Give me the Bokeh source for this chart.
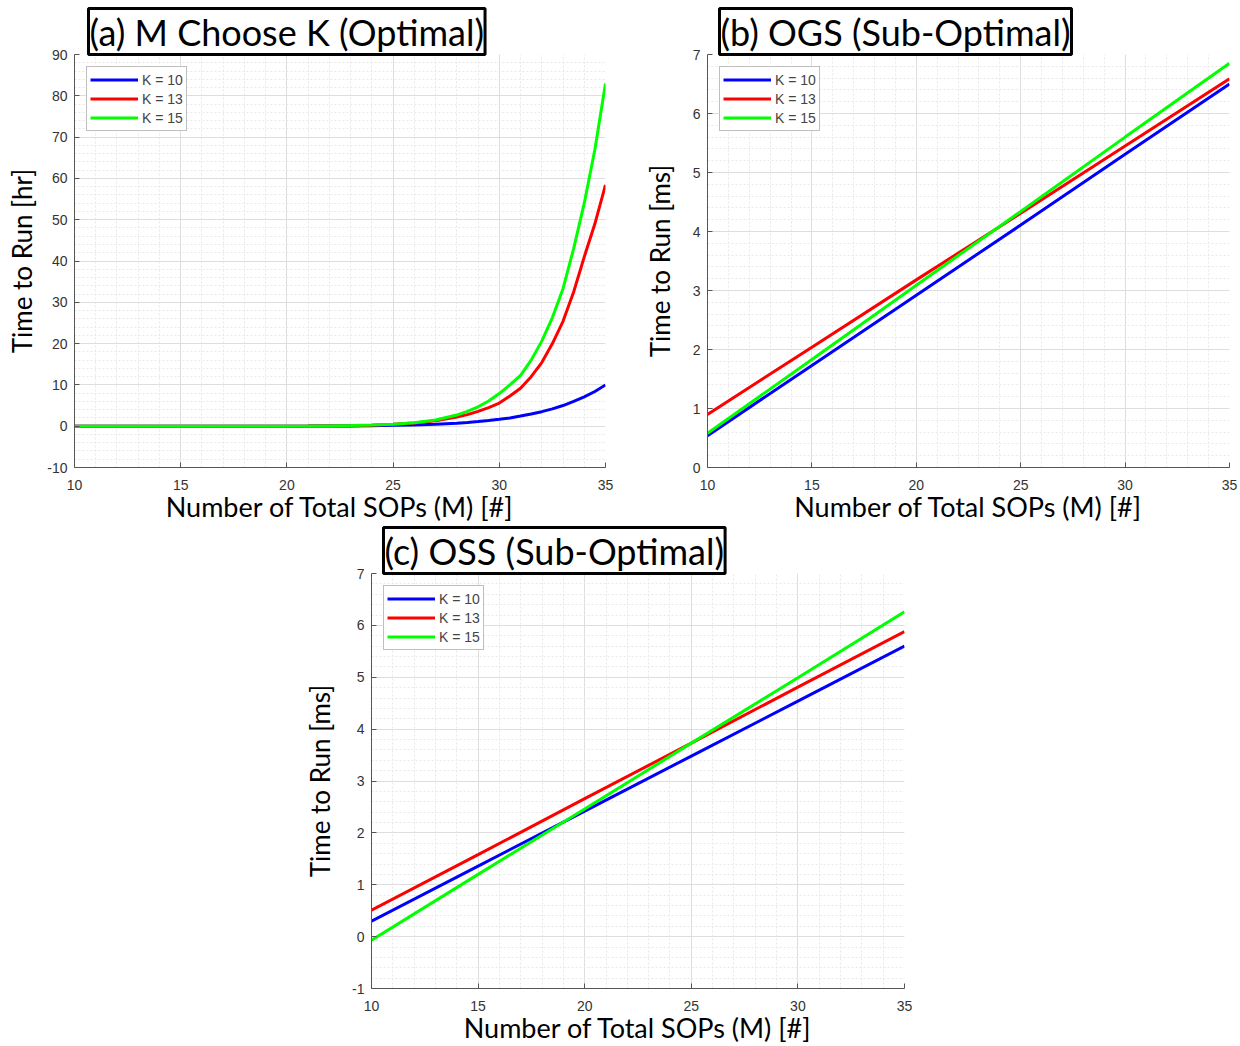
from bokeh.plotting import figure
from bokeh.models import Legend, LegendItem, Spacer, FixedTicker, Range1d
from bokeh.layouts import row, column
from bokeh.embed import file_html
from bokeh.resources import INLINE

# ---------------- data ----------------
m_a = [10, 11, 12, 13, 14, 15, 16, 17, 18, 19, 20, 21, 22, 23, 24, 25, 26, 27, 28,
       28.5, 29, 29.5, 30, 30.5, 31, 31.5, 32, 32.5, 33, 33.5, 34, 34.5, 35]
a_k10 = [0, 0, 0, 0, 0, 0, 0, 0, 0, 0.01, 0.01, 0.02, 0.04, 0.06, 0.11, 0.2,
         0.31, 0.48, 0.74, 0.92, 1.12, 1.38, 1.68, 2.0, 2.45, 2.95, 3.52, 4.2,
         5.0, 6.0, 7.1, 8.4, 10.0]
a_k13 = [0, 0, 0, 0, 0, 0, 0, 0, 0, 0, 0.01, 0.03, 0.06, 0.13, 0.25, 0.45,
         0.8, 1.3, 2.2, 2.8, 3.6, 4.5, 5.6, 7.3, 9.2, 12.0, 15.4, 20.0,
         25.4, 32.5, 41.0, 49.0, 58.4]
a_k15 = [0, 0, 0, 0, 0, 0, 0, 0, 0, 0, 0.01, 0.03, 0.07, 0.15, 0.3, 0.5,
         0.85, 1.5, 2.7, 3.6, 4.7, 6.1, 7.9, 10.0, 12.3, 16.0, 20.6, 26.3,
         33.3, 43.0, 54.0, 67.0, 83.0]

m_lin = [10, 15, 20, 25, 30, 35]
b_k10 = [0.54, 1.73, 2.92, 4.11, 5.31, 6.50]
b_k13 = [0.90, 2.04, 3.18, 4.31, 5.45, 6.59]
b_k15 = [0.58, 1.83, 3.09, 4.34, 5.60, 6.85]

c_k10 = [0.30, 1.36, 2.42, 3.48, 4.54, 5.60]
c_k13 = [0.51, 1.58, 2.66, 3.73, 4.81, 5.88]
c_k15 = [-0.07, 1.20, 2.46, 3.73, 4.99, 6.26]

series_labels = ["K = 10", "K = 13", "K = 15"]
series_colors = ["#0000ff", "#ff0000", "#00ff00"]

x_major = [10, 15, 20, 25, 30, 35]
x_minor = list(range(10, 36))

TITLE_FONT = "Lato"
TICK_FONT = "Liberation Sans"


def make_panel(width, height, left, right, top, bottom, y0, y1, ymaj, ymin,
               xs, ys_list, title, ylabel, title_offset, ylabel_standoff):
    p = figure(width=width, height=height, output_backend="svg", toolbar_location=None,
               x_range=Range1d(10, 35), y_range=Range1d(y0, y1),
               min_border_left=left, min_border_right=right,
               min_border_top=top, min_border_bottom=bottom)
    p.outline_line_color = None
    p.background_fill_color = "white"
    p.border_fill_color = "white"

    p.xaxis.ticker = FixedTicker(ticks=x_major, minor_ticks=x_minor)
    p.yaxis.ticker = FixedTicker(ticks=ymaj, minor_ticks=ymin)
    p.yaxis.major_label_overrides = {v: ("-%d" % abs(v)) for v in ymaj if v < 0}

    for ax in (p.xaxis[0], p.yaxis[0]):
        ax.axis_line_color = "#555555"
        ax.major_tick_line_color = "#555555"
        ax.major_tick_in = 5
        ax.major_tick_out = 0
        ax.minor_tick_in = 0
        ax.minor_tick_out = 0
        ax.major_label_text_font = TICK_FONT
        ax.major_label_text_font_size = "14px"
        ax.major_label_text_color = "#333333"
        ax.axis_label_text_font = TITLE_FONT
        ax.axis_label_text_font_style = "normal"
        ax.axis_label_text_color = "black"

    p.xaxis.axis_label = "Number of Total SOPs (M) [#]"
    p.xaxis.axis_label_text_font_size = "27px"
    p.xaxis.major_label_standoff = 12
    p.xaxis.axis_label_standoff = -3
    p.yaxis.axis_label = ylabel
    p.yaxis.axis_label_text_font_size = "26px"
    p.yaxis.major_label_standoff = 7
    p.yaxis.axis_label_standoff = ylabel_standoff

    for g in (p.xgrid[0], p.ygrid[0]):
        g.grid_line_color = "#dedede"
        g.grid_line_width = 1
        g.minor_grid_line_color = "#e8e8e8"
        g.minor_grid_line_dash = "2 2"
        g.minor_grid_line_width = 1

    items = []
    for ys, lab, col in zip(ys_list, series_labels, series_colors):
        r = p.line(xs, ys, line_color=col, line_width=3)
        items.append(LegendItem(label=lab, renderers=[r]))

    leg = Legend(items=items, location="top_left")
    leg.margin = 12
    leg.padding = 3
    leg.spacing = 0
    leg.glyph_width = 48
    leg.glyph_height = 19
    leg.label_height = 19
    leg.label_standoff = 4
    leg.label_text_font = TICK_FONT
    leg.label_text_font_size = "14px"
    leg.border_line_color = "#7f7f7f"
    leg.border_line_width = 1
    leg.background_fill_color = "white"
    leg.background_fill_alpha = 1.0
    p.add_layout(leg)

    p.title.text = title
    p.title.text_font = TITLE_FONT
    p.title.text_font_size = "36px"
    p.title.text_font_style = "normal"
    p.title.text_color = "black"
    p.title.align = "left"
    p.title.offset = title_offset
    p.title.standoff = 0
    p.title.background_fill_color = "white"
    p.title.border_line_color = "black"
    p.title.border_line_width = 3
    p.title.padding = 1
    return p


# frame (a): left 74, right 605, top 51, bottom 470 within 640x525
pa = make_panel(640, 525, 74, 35, 51, 55, -10, 90,
                list(range(-10, 91, 10)), list(range(-10, 91, 2)),
                m_a, [a_k10, a_k13, a_k15],
                "(a) M Choose K (Optimal)", "Time to Run [hr]", 14, 6)

# frame (b): left 706, right 1229, top 54, bottom 467 (figure origin x=640)
pb = make_panel(600, 525, 66, 11, 54, 58, 0, 7,
                list(range(0, 8)), [i / 5 for i in range(0, 36)],
                m_lin, [b_k10, b_k13, b_k15],
                "(b) OGS (Sub-Optimal)", "Time to Run [ms]", 12, 14)

# frame (c): left 371, right 904, top 573, bottom 993 (figure origin x=300, y=525)
pc = make_panel(640, 521, 71, 36, 48, 53, -1, 7,
                list(range(-1, 8)), [i / 5 for i in range(-5, 36)],
                m_lin, [c_k10, c_k13, c_k15],
                "(c) OSS (Sub-Optimal)", "Time to Run [ms]", 12, 13)

layout = column(row(pa, pb), row(Spacer(width=300, height=521), pc))

open("out.html", "w").write(file_html(layout, INLINE))
